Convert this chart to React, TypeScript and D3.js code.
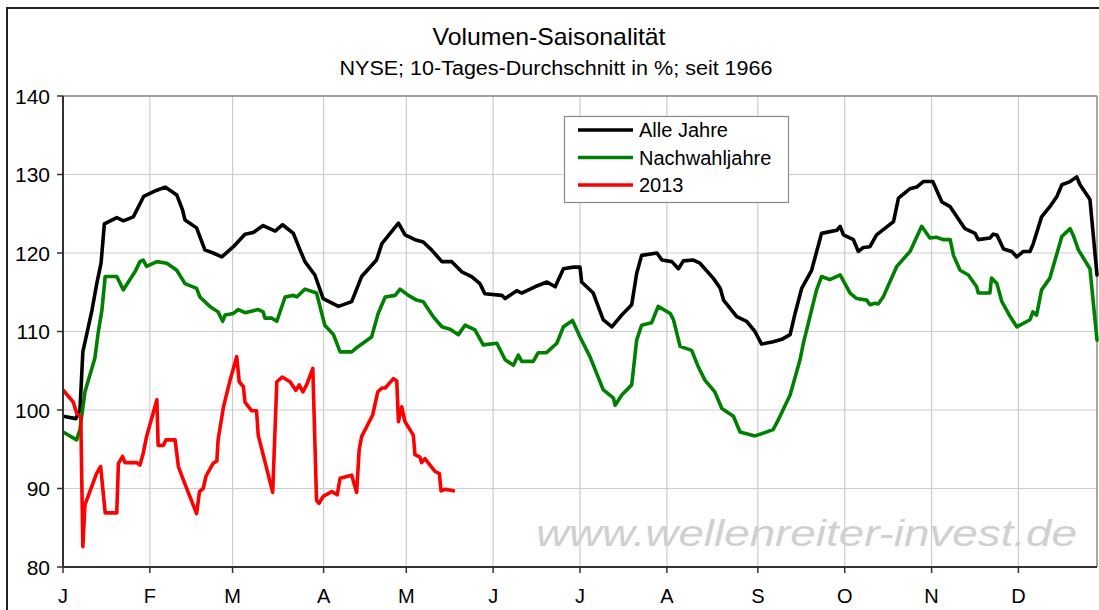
import React from "react";
import * as d3 from "d3";

// x unit: trading day of the year (0..250)
const monthLabels = ["J", "F", "M", "A", "M", "J", "J", "A", "S", "O", "N", "D"];
const monthStartDay = [0, 21, 41, 63, 83, 104, 125, 146, 168, 189, 210, 231];
const yTicks = [80, 90, 100, 110, 120, 130, 140];

const alleJahre: [number, number][] = [
  [0, 99.2], [3.1, 98.9], [4.1, 100.0], [4.8, 107.4], [7.0, 112.7], [8.2, 116.2], [9.2, 118.7], [10.0, 123.7],
  [13.0, 124.5], [14.6, 124.1], [17.0, 124.6], [19.5, 127.2], [22.7, 128.0], [24.7, 128.4], [27.5, 127.4],
  [28.9, 125.5], [29.5, 124.2], [32.3, 123.2], [34.3, 120.4], [36.3, 120.0], [38.4, 119.5], [41.2, 120.8],
  [44.0, 122.4], [46.0, 122.6], [48.4, 123.5], [51.3, 122.8], [53.1, 123.6], [55.7, 122.5], [57.3, 120.4],
  [58.5, 118.9], [60.9, 117.2], [62.9, 114.2], [66.6, 113.2], [69.8, 113.8], [72.2, 117.0], [75.8, 119.1],
  [77.1, 121.2], [79.1, 122.5], [81.1, 123.8], [82.7, 122.3], [85.1, 121.7], [87.1, 121.4], [89.1, 120.4],
  [91.6, 118.9], [94.0, 118.9], [96.4, 117.6], [98.8, 117.0], [100.8, 116.1], [102.0, 114.8], [106.1, 114.6],
  [106.9, 114.2], [109.7, 115.2], [110.9, 114.9], [114.1, 115.7], [117.0, 116.3], [119.0, 115.7], [121.0, 118.0],
  [123.4, 118.2], [125.0, 118.2], [125.4, 116.3], [128.2, 114.9], [130.6, 111.5], [132.7, 110.6], [135.1, 112.1],
  [137.5, 113.4], [138.7, 117.4], [139.9, 119.7], [143.6, 120.0], [144.8, 119.1], [147.2, 118.9], [148.8, 118.0],
  [150.0, 119.0], [152.4, 119.1], [154.0, 118.7], [157.2, 116.8], [158.9, 115.5], [159.7, 114.0], [162.9, 111.9],
  [165.3, 111.3], [167.3, 110.0], [168.9, 108.4], [171.7, 108.7], [173.8, 109.0], [175.8, 109.6], [177.0, 112.3],
  [178.6, 115.5], [181.0, 117.8], [183.4, 122.5], [187.1, 122.9], [187.9, 123.4], [188.7, 122.3], [191.1, 121.7],
  [192.3, 120.2], [193.5, 120.7], [195.1, 120.8], [196.7, 122.3], [200.8, 124.0], [202.0, 127.0], [204.8, 128.2],
  [206.4, 128.4], [208.0, 129.1], [210.3, 129.1], [212.5, 126.5], [214.5, 125.9], [216.9, 124.0], [218.1, 123.1],
  [220.5, 122.5], [221.3, 121.7], [224.1, 121.9], [224.9, 122.4], [225.8, 122.3], [227.4, 120.5], [229.4, 120.2],
  [230.6, 119.5], [232.2, 120.2], [233.8, 120.2], [234.6, 121.2], [236.6, 124.6], [238.6, 125.9], [240.3, 127.2],
  [241.5, 128.7], [243.5, 129.1], [245.1, 129.7], [245.9, 128.7], [248.3, 126.8], [250, 117.2],
];

const nachwahljahre: [number, number][] = [
  [0, 97.2], [3.3, 96.2], [4.1, 97.5], [5.3, 102.3], [7.7, 106.6], [8.5, 109.8], [9.4, 112.7], [10.2, 117.0],
  [13.0, 117.0], [14.6, 115.3], [15.8, 116.3], [17.4, 117.6], [18.6, 118.9], [19.4, 119.1], [20.2, 118.3],
  [22.7, 118.9], [25.1, 118.7], [27.5, 117.8], [29.5, 116.1], [32.3, 115.5], [33.1, 114.4], [35.5, 113.2],
  [37.5, 112.5], [38.6, 111.3], [39.2, 112.1], [41.2, 112.3], [42.4, 112.8], [44.0, 112.4], [47.2, 112.8],
  [48.4, 112.5], [48.8, 111.7], [50.5, 111.7], [51.7, 111.3], [53.7, 114.4], [55.7, 114.6], [56.5, 114.4],
  [58.5, 115.4], [61.3, 114.9], [63.3, 110.8], [65.4, 109.6], [67.0, 107.4], [69.8, 107.4], [71.4, 108.1],
  [74.6, 109.3], [76.2, 112.3], [77.9, 114.4], [80.3, 114.6], [81.5, 115.4], [83.5, 114.6], [85.5, 114.0],
  [87.1, 113.8], [89.5, 111.9], [91.6, 110.6], [93.6, 110.3], [95.6, 109.6], [97.2, 110.8], [99.6, 110.2],
  [101.6, 108.3], [104.9, 108.5], [106.9, 106.4], [108.9, 105.7], [110.1, 107.0], [110.9, 106.2], [113.7, 106.2],
  [114.9, 107.3], [116.9, 107.3], [119.4, 108.5], [121.0, 110.6], [123.2, 111.4], [125.0, 109.3], [127.4, 106.8],
  [130.6, 102.6], [133.1, 101.5], [133.5, 100.6], [135.1, 101.9], [137.5, 103.2], [138.7, 108.9], [139.9, 110.8],
  [142.3, 111.1], [143.9, 113.2], [146.8, 112.3], [147.6, 111.5], [149.2, 108.1], [152.0, 107.6], [153.6, 105.5],
  [155.2, 103.8], [157.6, 102.3], [158.4, 101.3], [159.3, 100.2], [162.1, 99.2], [163.7, 97.2], [167.3, 96.7],
  [168.5, 96.9], [171.7, 97.5], [172.9, 98.7], [175.8, 101.9], [178.2, 106.4], [179.0, 108.5], [182.2, 115.3],
  [183.4, 117.0], [185.4, 116.6], [187.9, 117.2], [190.3, 114.9], [191.9, 114.2], [194.3, 114.0], [195.1, 113.4],
  [196.3, 113.6], [197.1, 113.5], [198.3, 114.4], [201.6, 118.3], [204.8, 120.2], [207.6, 123.4], [209.6, 121.9],
  [211.2, 122.0], [212.8, 121.7], [214.5, 121.7], [215.3, 119.7], [216.9, 117.8], [218.9, 117.2], [220.9, 115.7],
  [221.3, 114.9], [224.1, 114.9], [224.5, 116.8], [225.8, 116.1], [227.0, 113.8], [229.0, 111.9], [230.6, 110.6],
  [233.8, 111.5], [234.5, 112.5], [235.4, 112.1], [236.6, 115.3], [238.6, 116.8], [241.5, 122.1], [243.5, 123.1],
  [244.3, 122.2], [245.5, 120.4], [248.3, 118.0], [250, 108.9],
];

const jahr2013: [number, number][] = [
  [0.1, 102.5], [2.5, 101.0], [3.3, 99.6], [4.3, 99.1], [4.8, 82.6], [5.3, 87.9], [8.1, 91.9], [9.1, 92.8],
  [10.2, 86.9], [13.0, 86.9], [13.4, 93.2], [14.4, 94.1], [15.0, 93.3], [17.8, 93.3], [18.6, 93.0], [19.4, 94.5],
  [20.2, 96.6], [22.7, 101.3], [23.0, 95.5], [24.3, 95.5], [24.9, 96.2], [27.1, 96.2], [27.9, 92.8], [29.1, 91.1],
  [32.3, 86.8], [33.0, 89.6], [33.9, 90.0], [34.6, 91.6], [36.3, 93.2], [37.2, 93.5], [37.5, 96.2], [38.8, 100.4],
  [40.4, 103.8], [42.0, 106.8], [42.6, 103.6], [43.6, 103.0], [44.0, 101.0], [45.6, 99.9], [46.8, 99.9],
  [47.2, 96.8], [50.7, 89.5], [51.7, 103.6], [53.0, 104.2], [54.9, 103.6], [56.3, 102.5], [57.1, 103.2],
  [58.0, 102.3], [58.9, 103.2], [60.4, 105.3], [61.3, 88.5], [61.9, 88.1], [62.9, 89.0], [65.0, 89.6],
  [66.3, 89.2], [67.0, 91.3], [69.8, 91.7], [71.0, 89.5], [71.6, 94.9], [72.2, 96.6], [74.9, 99.4], [76.1, 102.3],
  [77.1, 102.8], [77.9, 102.8], [79.9, 104.0], [80.7, 103.7], [81.1, 98.5], [81.9, 100.4], [82.7, 98.5],
  [84.7, 96.8], [85.1, 94.3], [86.3, 94.0], [86.7, 93.3], [87.5, 93.8], [89.9, 92.2], [91.0, 91.9], [91.4, 89.7],
  [92.4, 89.9], [94.4, 89.7],
];

const seriesNames = ["Alle Jahre", "Nachwahljahre", "2013"];
const seriesColors = ["#000000", "#008000", "#ff0000"];

const FONT = "'Liberation Sans', Arial, sans-serif";

export default function App() {
  const W = 1099;
  const H = 610;
  const left = 63, right = 1097, top = 96, bottom = 567;
  const x = d3.scaleLinear().domain([0, 250]).range([left, right]);
  const y = d3.scaleLinear().domain([80, 140]).range([bottom, top]);
  const line = d3
    .line<[number, number]>()
    .x((d) => x(d[0]))
    .y((d) => y(d[1]));
  const data = [alleJahre, nachwahljahre, jahr2013];

  return (
    <svg
      width={W}
      height={H}
      style={{ position: "absolute", left: 0, top: 0, background: "#fff" }}
      fontFamily={FONT}
    >
      <defs>
        <clipPath id="plot">
          <rect x={left} y={top - 4} width={right - left + 2} height={bottom - top + 8} />
        </clipPath>
      </defs>
      {/* outer frame */}
      <rect x={7} y={8} width={W + 20} height={H + 20} fill="#fff" stroke="#222" strokeWidth={2} />

      {/* titles */}
      <text x={549} y={45} textAnchor="middle" fontSize={24} fill="#000" textLength={233} lengthAdjust="spacingAndGlyphs">
        Volumen-Saisonalität
      </text>
      <text x={556} y={75} textAnchor="middle" fontSize={20} fill="#000" textLength={433} lengthAdjust="spacingAndGlyphs">
        NYSE; 10-Tages-Durchschnitt in %; seit 1966
      </text>

      {/* grid */}
      {yTicks.map((t) => (
        <line key={"hy" + t} x1={left} x2={right} y1={y(t)} y2={y(t)} stroke="#cccccc" strokeWidth={1.2} />
      ))}
      {monthStartDay.slice(1).map((d, i) => (
        <line key={"vx" + i} x1={x(d)} x2={x(d)} y1={top} y2={bottom} stroke="#cccccc" strokeWidth={1.2} />
      ))}
      {/* plot frame top/right */}
      <line x1={left} x2={right} y1={top} y2={top} stroke="#8a8a8a" strokeWidth={1.5} />
      <line x1={right} x2={right} y1={top} y2={bottom} stroke="#8a8a8a" strokeWidth={1.5} />

      {/* watermark */}
      <text
        x={536}
        y={546}
        fontSize={36}
        fontStyle="italic"
        fill="#d0d0d0"
        textLength={541}
        lengthAdjust="spacingAndGlyphs"
      >
        www.wellenreiter-invest.de
      </text>

      {/* series */}
      <g clipPath="url(#plot)">
        {data.map((s, i) => (
          <path
            key={seriesNames[i]}
            d={line(s) || ""}
            fill="none"
            stroke={seriesColors[i]}
            strokeWidth={3.6}
            strokeLinejoin="round"
            strokeLinecap="round"
          />
        ))}
      </g>

      {/* axes */}
      <line x1={left} x2={left} y1={top} y2={bottom} stroke="#333" strokeWidth={2} />
      <line x1={left} x2={right} y1={bottom} y2={bottom} stroke="#333" strokeWidth={2} />
      {yTicks.map((t) => (
        <g key={"yt" + t}>
          <line x1={left - 6} x2={left} y1={y(t)} y2={y(t)} stroke="#333" strokeWidth={1.5} />
          <text x={50} y={y(t)} dy="0.36em" textAnchor="end" fontSize={21} fill="#000">
            {t}
          </text>
        </g>
      ))}
      {monthStartDay.map((d, i) => (
        <g key={"xt" + i}>
          <line x1={x(d)} x2={x(d)} y1={bottom} y2={bottom + 6} stroke="#333" strokeWidth={1.5} />
          <text x={x(d)} y={603} textAnchor="middle" fontSize={20} fill="#000">
            {monthLabels[i]}
          </text>
        </g>
      ))}

      {/* legend */}
      <rect x={564.5} y={116.5} width={224} height={86} fill="#fff" stroke="#8a8a8a" strokeWidth={1.2} />
      {seriesNames.map((n, i) => (
        <g key={"lg" + n}>
          <line x1={578} x2={633} y1={130 + i * 27.5} y2={130 + i * 27.5} stroke={seriesColors[i]} strokeWidth={3.6} />
          <text x={639} y={130 + i * 27.5} dy="0.36em" fontSize={20} fill="#000">
            {n}
          </text>
        </g>
      ))}
    </svg>
  );
}
